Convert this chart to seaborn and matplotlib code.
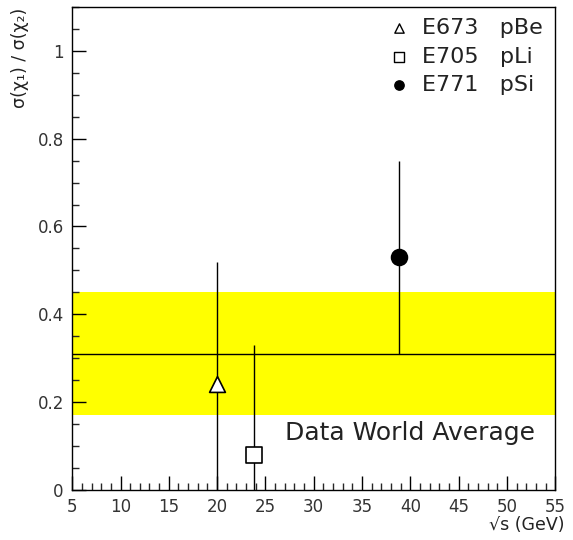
import matplotlib
matplotlib.use("Agg")
import matplotlib.pyplot as plt
import matplotlib.ticker as ticker
import seaborn as sns
import pandas as pd

experiments = ["E673   pBe", "E705   pLi", "E771   pSi"]
sqrt_s = [20.0, 23.8, 38.8]
ratio = [0.24, 0.08, 0.53]
err_low = [0.0, 0.0, 0.31]
err_high = [0.52, 0.33, 0.75]
markers = ["^", "s", "o"]
fills = ["white", "white", "black"]

# world average band
avg_value = 0.31
avg_low = 0.17
avg_high = 0.45

sns.set_style("white")
plt.rcParams["font.family"] = ["DejaVu Sans"]

df = pd.DataFrame({"exp": experiments, "x": sqrt_s, "y": ratio})

fig = plt.figure(figsize=(5.73, 5.4), dpi=100)
ax = fig.add_axes([0.126, 0.093, 0.843, 0.894])

ax.axhspan(avg_low, avg_high, color="#ffff00", lw=0, zorder=0)
ax.axhline(avg_value, color="black", lw=1, zorder=1)

#error bars first, markers drawn on top
ax.vlines(sqrt_s, err_low, err_high, color="black", lw=1, zorder=2)

for i in range(len(df)):
    sns.scatterplot(data=df.iloc[[i]], x="x", y="y", marker=markers[i],
                    s=130, color=fills[i], edgecolor="black",
                    linewidth=1.2, ax=ax, zorder=3, legend=False)

ax.set_xlim(5, 55)
ax.set_ylim(0, 1.1)
ax.xaxis.set_major_locator(ticker.MultipleLocator(5))
ax.xaxis.set_minor_locator(ticker.MultipleLocator(1))
ax.yaxis.set_major_locator(ticker.FixedLocator([0, 0.2, 0.4, 0.6, 0.8, 1.0]))
ax.yaxis.set_minor_locator(ticker.MultipleLocator(0.05))
ax.yaxis.set_major_formatter(ticker.FuncFormatter(lambda v, p: "0" if v == 0 else ("1" if abs(v - 1) < 1e-9 else f"{v:.1f}")))
ax.tick_params(which="major", direction="in", length=10, width=1, labelsize=12, colors="black", pad=6)
ax.tick_params(which="minor", direction="in", length=5, width=1)
ax.tick_params(axis="both", which="both", top=False, right=False, bottom=True, left=True)
for lab in ax.get_xticklabels() + ax.get_yticklabels():
    lab.set_color("#333333")
for sp in ax.spines.values():
    sp.set_color("black")
    sp.set_linewidth(1)

ax.set_xlabel("")
ax.set_ylabel("")
fig.text(0.92, 0.012, "\u221as (GeV)", fontsize=12.5, ha="center", va="bottom", color="#222222")
fig.text(0.035, 0.985, "\u03c3(\u03c7\u2081) / \u03c3(\u03c7\u2082)", fontsize=12.5,
         rotation=90, ha="center", va="top", color="#222222")

# legend entries
handles = []
for i in range(len(experiments)):
    h = ax.scatter([], [], marker=markers[i], s=45, color=fills[i], edgecolor="black", linewidth=1)
    handles.append(h)
leg = ax.legend(handles, experiments, loc="upper right", frameon=False, fontsize=16,
                handletextpad=0.05, labelspacing=0.38, borderaxespad=0.0, borderpad=0.0,
                bbox_to_anchor=(0.975, 0.977))
for t in leg.get_texts():
    t.set_color("#222222")

ax.text(40.0, 0.114, "Data World Average", fontsize=18, ha="center", va="baseline", color="#222222")

fig.savefig("out.png", dpi=100)
